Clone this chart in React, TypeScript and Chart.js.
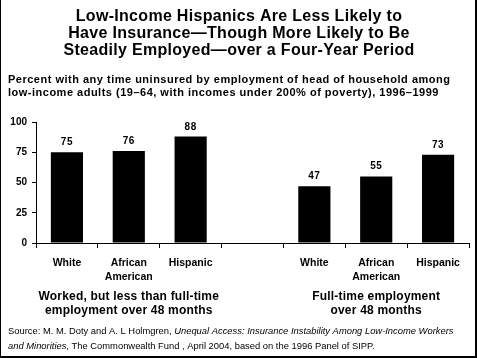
import React, { useEffect, useRef } from "react";
import { Chart, registerables } from "chart.js";

Chart.register(...registerables);

const categories: (string | string[])[] = [
  "White",
  ["African", "American"],
  "Hispanic",
  "",
  "White",
  ["African", "American"],
  "Hispanic",
];
const values: (number | null)[] = [75, 76, 88, null, 47, 55, 73];
const yTicks = [0, 25, 50, 75, 100];
const titleLines = [
  "Low-Income Hispanics Are Less Likely to",
  "Have Insurance\u2014Though More Likely to Be",
  "Steadily Employed\u2014over a Four-Year Period",
];
const subtitleLines = [
  "Percent with any time uninsured by employment of head of household among",
  "low-income adults (19\u201364, with incomes under 200% of poverty), 1996\u20131999",
];
const groupLabels = [
  ["Worked, but less than full-time", "employment over 48 months"],
  ["Full-time employment", "over 48 months"],
];
const groupRanges = [
  [0, 2],
  [4, 6],
];

const FONT = "'Liberation Sans', Arial, sans-serif";

const overlayPlugin = {
  id: "overlay",
  afterDraw(chart: any) {
    const ctx = chart.ctx as any;
    const xs = chart.scales.x;
    ctx.save();
    ctx.fillStyle = "#000";
    // Title
    ctx.font = `bold 16px ${FONT}`;
    ctx.letterSpacing = "0.3px";
    ctx.textAlign = "center";
    ctx.textBaseline = "middle";
    titleLines.forEach((t, i) => ctx.fillText(t, 239, 17 + i * 17));
    // Subtitle
    ctx.font = `bold 11px ${FONT}`;
    ctx.letterSpacing = "0.5px";
    ctx.textAlign = "left";
    subtitleLines.forEach((t, i) => ctx.fillText(t, 8, 80 + i * 13));
    // Data labels
    ctx.letterSpacing = "0.5px";
    ctx.font = `bold 10px ${FONT}`;
    ctx.textAlign = "center";
    ctx.textBaseline = "alphabetic";
    const meta = chart.getDatasetMeta(0);
    meta.data.forEach((bar: any, i: number) => {
      const v = values[i];
      if (v == null) return;
      ctx.fillText(String(v), bar.x, bar.y - 7);
    });
    // Group labels
    ctx.font = `bold 12px ${FONT}`;
    ctx.letterSpacing = "0.2px";
    ctx.textBaseline = "middle";
    groupLabels.forEach((lines, g) => {
      const [a, b] = groupRanges[g];
      const cx = (xs.getPixelForValue(a) + xs.getPixelForValue(b)) / 2;
      lines.forEach((t, i) => ctx.fillText(t, cx, 297 + i * 14));
    });
    // Source
    ctx.letterSpacing = "0px";
    ctx.textAlign = "left";
    const size = 9.4;
    let x = 8;
    const parts1: [string, boolean][] = [
      ["Source: M. M. Doty and A. L Holmgren, ", false],
      ["Unequal Access: Insurance Instability Among Low-Income Workers", true],
    ];
    parts1.forEach(([t, it]) => {
      ctx.font = `${it ? "italic " : ""}${size}px ${FONT}`;
      ctx.fillText(t, x, 331);
      x += ctx.measureText(t).width;
    });
    x = 8;
    const parts2: [string, boolean][] = [
      ["and Minorities", true],
      [", The Commonwealth Fund , April 2004, based on the 1996 Panel of SIPP.", false],
    ];
    parts2.forEach(([t, it]) => {
      ctx.font = `${it ? "italic " : ""}${size}px ${FONT}`;
      ctx.fillText(t, x, 346);
      x += ctx.measureText(t).width;
    });
    // Frame
    ctx.fillRect(0, 0, 1, 358);
    ctx.fillRect(475, 0, 2, 358);
    ctx.fillRect(0, 356, 477, 2);
    ctx.restore();
  },
};

export default function App() {
  const ref = useRef<HTMLCanvasElement>(null);
  useEffect(() => {
    document.body.style.margin = "0";
    const chart = new Chart(ref.current!, {
      type: "bar",
      data: {
        labels: categories,
        datasets: [
          {
            data: values,
            backgroundColor: "#000",
            borderWidth: 0,
            barPercentage: 0.52,
            categoryPercentage: 1,
          },
        ],
      },
      options: {
        animation: false,
        responsive: false,
        maintainAspectRatio: false,
        layout: { padding: { top: 122, left: 0, right: 8, bottom: 0 } },
        plugins: {
          legend: { display: false },
          title: { display: false },
          tooltip: { enabled: false },
        },
        scales: {
          x: {
            grid: {
              offset: true,
              drawOnChartArea: false,
              drawTicks: true,
              tickLength: 5,
              color: "#000",
            },
            border: { display: true, color: "#000", width: 1 },
            ticks: {
              color: "#000",
              font: { family: FONT, size: 10.5, weight: "bold", lineHeight: 1.35 },
              padding: 8,
              maxRotation: 0,
              autoSkip: false,
            },
            afterFit(scale: any) {
              scale.height = 115;
            },
          },
          y: {
            min: 0,
            max: 100,
            afterBuildTicks(scale: any) {
              scale.ticks = yTicks.map((v) => ({ value: v }));
            },
            grid: {
              drawOnChartArea: false,
              drawTicks: true,
              tickLength: 4,
              color: "#000",
            },
            border: { display: true, color: "#000", width: 1 },
            ticks: {
              color: "#000",
              font: { family: FONT, size: 10, weight: "bold" },
              padding: 5,
            },
            afterFit(scale: any) {
              scale.width = 36;
            },
          },
        },
      },
      plugins: [overlayPlugin],
    });
    return () => chart.destroy();
  }, []);
  return <canvas ref={ref} width={477} height={358} style={{ display: "block" }} />;
}
